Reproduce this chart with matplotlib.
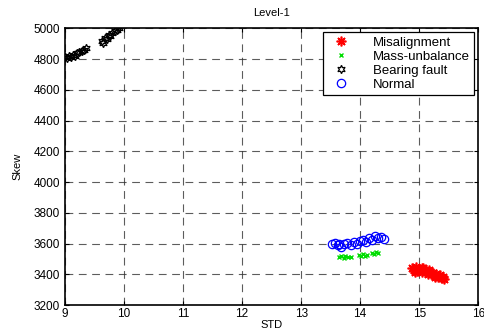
import matplotlib
matplotlib.use("Agg")
import matplotlib.pyplot as plt

plt.rcParams["font.family"] = ["Liberation Sans", "DejaVu Sans"]
plt.rcParams["font.size"] = 8.5

# STD / Skew feature values per fault class (level-1 decomposition)
mis_std = [14.88, 14.91, 14.94, 14.97, 15.00, 15.02, 15.05, 15.07, 15.10, 15.12,
           15.15, 15.18, 15.20, 15.23, 15.26, 15.29, 15.32, 15.35, 15.38, 15.42,
           14.93, 15.04, 15.16, 15.27, 15.40]
mis_skew = [3438, 3430, 3445, 3420, 3435, 3425, 3412, 3438, 3418, 3428,
            3405, 3415, 3400, 3410, 3392, 3402, 3385, 3395, 3378, 3372,
            3415, 3440, 3425, 3380, 3385]

mass_std = [13.65, 13.68, 13.72, 13.75, 13.80, 13.84, 13.98, 14.02, 14.05,
            14.08, 14.12, 14.20, 14.24, 14.27, 14.30]
mass_skew = [3512, 3518, 3508, 3520, 3515, 3510, 3525, 3518, 3530,
             3522, 3527, 3540, 3535, 3545, 3538]

bear_std = [9.00, 9.03, 9.06, 9.10, 9.14, 9.17, 9.20, 9.24, 9.28, 9.32, 9.36,
            9.62, 9.65, 9.68, 9.71, 9.74, 9.77, 9.80, 9.84, 9.88, 9.91]
bear_skew = [4812, 4808, 4818, 4815, 4828, 4822, 4838, 4845, 4855, 4862, 4872,
             4920, 4905, 4940, 4930, 4958, 4950, 4972, 4982, 4992, 5000]

norm_std = [13.52, 13.57, 13.62, 13.65, 13.68, 13.72, 13.78, 13.85, 13.90,
            13.95, 14.00, 14.05, 14.10, 14.15, 14.20, 14.25, 14.30, 14.35, 14.40]
norm_skew = [3598, 3605, 3588, 3600, 3578, 3595, 3602, 3590, 3612, 3600,
             3615, 3625, 3612, 3635, 3625, 3648, 3638, 3642, 3630]

fig = plt.figure(figsize=(4.85, 3.33), dpi=100)
ax = fig.add_axes([0.134, 0.084, 0.852, 0.831])

ax.plot(mis_std, mis_skew, linestyle="none", marker=(8, 2, 0), color="red",
        markersize=7, markeredgewidth=1.2, label="Misalignment")
ax.plot(mass_std, mass_skew, linestyle="none", marker="x", color="#00dd00",
        markersize=3.5, markeredgewidth=1.0, label="Mass-unbalance")
ax.plot(bear_std, bear_skew, linestyle="none", marker=(6, 1, 0), color="black",
        markerfacecolor="none", markersize=6, markeredgewidth=0.9, label="Bearing fault")
ax.plot(norm_std, norm_skew, linestyle="none", marker="o", color="blue",
        markerfacecolor="none", markersize=6, markeredgewidth=0.9, label="Normal")

ax.set_xlim(9, 16)
ax.set_ylim(3200, 5000)
ax.set_xticks(range(9, 17))
ax.set_yticks(range(3200, 5001, 200))
ax.grid(True, color="#333333", linestyle=(0, (7, 5)), linewidth=0.8, alpha=0.8)
ax.tick_params(direction="in", top=True, right=True, length=3, labelsize=8.5)
ax.tick_params(axis="x", pad=2)
for s in ax.spines.values():
    s.set_linewidth(1.2)

ax.set_title("Level-1", fontsize=8, pad=9)
ax.set_xlabel("STD", fontsize=8, labelpad=0)
ax.set_ylabel("Skew", fontsize=8, labelpad=8)

leg = ax.legend(loc="upper right", fontsize=9.5, fancybox=False, framealpha=1,
                edgecolor="black", borderaxespad=0.3, handlelength=2.0,
                handletextpad=1.4, labelspacing=0.12, borderpad=0.35)
leg.get_frame().set_linewidth(0.9)

fig.savefig("out.png", dpi=100)
